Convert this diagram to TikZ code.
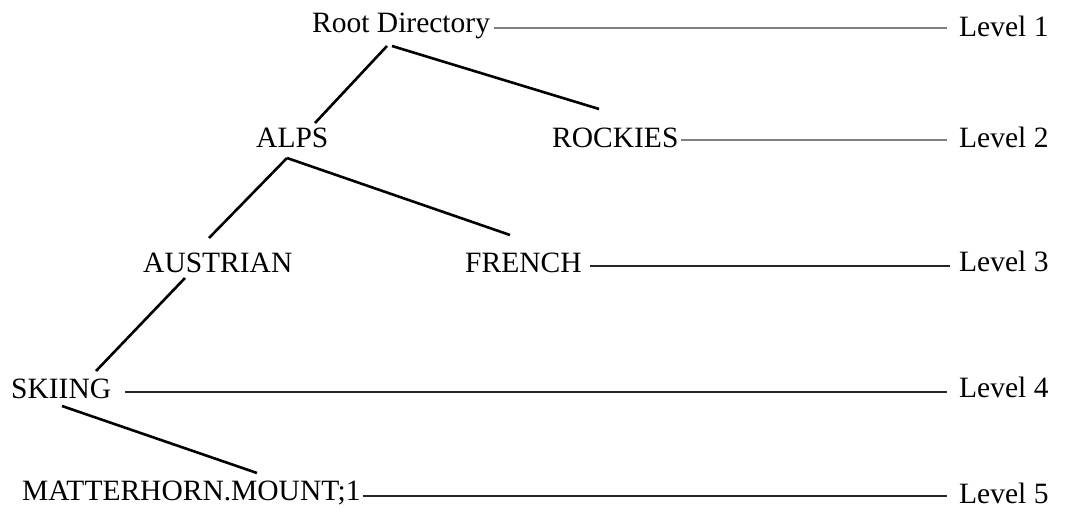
\documentclass[tikz,border=0pt]{standalone}
\usepackage{fontspec}
\setmainfont{Liberation Serif}
\begin{document}
\begin{tikzpicture}[x=1pt, y=-1pt,
    dir/.style={anchor=base west, inner sep=0pt, font=\fontsize{29.5}{32}\selectfont},
    branch/.style={line width=2.6pt, black},
    levelline/.style={line width=1.3pt, black!85},
    levelgray/.style={line width=1.4pt, black!50}]

    % Fix the page to the size of the reference
    \useasboundingbox (0,0) rectangle (1076,508);

    % Place the directory names
    \node[dir] (root) at (312,33) {Root Directory};
    \node[dir] (alps) at (256,147) {ALPS};
    \node[dir] (rockies) at (552,148) {ROCKIES};
    \node[dir] (austrian) at (143,272) {AUSTRIAN};
    \node[dir] (french) at (465,272) {FRENCH};
    \node[dir] (skiing) at (11,398) {SKIING};
    \node[dir] (matter) at (22,500) {MATTERHORN.MOUNT;1};

    % Place the level labels
    \node[dir] (lvl1) at (959,37) {Level 1};
    \node[dir] (lvl2) at (959,148) {Level 2};
    \node[dir] (lvl3) at (959,271) {Level 3};
    \node[dir] (lvl4) at (959,397) {Level 4};
    \node[dir] (lvl5) at (959,503) {Level 5};

    % Draw the branches of the tree
    \draw[branch] ([xshift=75pt,yshift=-13pt]root.base west) -- ([xshift=59pt,yshift=24pt]alps.base west);
    \draw[branch] ([xshift=80pt,yshift=-13pt]root.base west) -- ([xshift=47pt,yshift=39pt]rockies.base west);
    \draw[branch] ([xshift=31pt,yshift=-11pt]alps.base west) -- ([xshift=66pt,yshift=34pt]austrian.base west);
    \draw[branch] ([xshift=31pt,yshift=-11pt]alps.base west) -- ([xshift=45pt,yshift=37pt]french.base west);
    \draw[branch] ([xshift=42pt,yshift=-6pt]austrian.base west) -- ([xshift=85pt,yshift=27pt]skiing.base west);
    \draw[branch] ([xshift=51pt,yshift=-8pt]skiing.base west) -- ([xshift=235pt,yshift=27pt]matter.base west);

    % Draw the lines out to the levels
    \draw[levelgray] ([xshift=4pt,yshift=5pt]root.base east) -- ([xshift=-12pt,yshift=5pt]root.base east -| lvl1.west);
    \draw[levelgray] ([xshift=2pt,yshift=8pt]rockies.base east) -- ([xshift=-12pt,yshift=8pt]rockies.base east -| lvl2.west);
    \draw[levelline] ([xshift=8pt,yshift=6pt]french.base east) -- ([xshift=-9pt,yshift=6pt]french.base east -| lvl3.west);
    \draw[levelline] ([xshift=14pt,yshift=6pt]skiing.base east) -- ([xshift=-12pt,yshift=6pt]skiing.base east -| lvl4.west);
    \draw[levelline] ([xshift=2pt,yshift=4pt]matter.base east) -- ([xshift=-12pt,yshift=4pt]matter.base east -| lvl5.west);

\end{tikzpicture}
\end{document}
